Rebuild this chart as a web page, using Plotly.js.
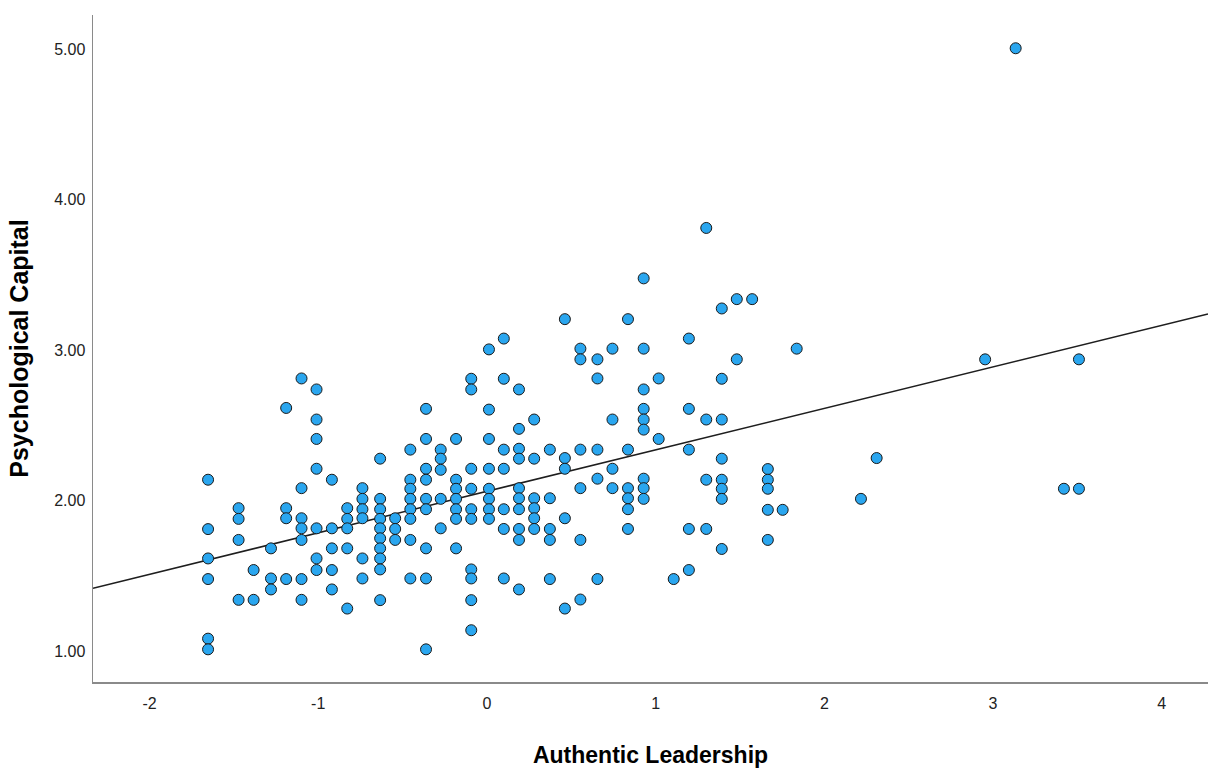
<!DOCTYPE html>
<html>
<head>
<meta charset="utf-8">
<script src="https://cdn.plot.ly/plotly-3.0.1.min.js"></script>
<style>html,body{margin:0;padding:0;background:#fff;}#chart{width:1208px;height:768px;}</style>
</head>
<body>
<div id="chart"></div>
<script>
// Authentic Leadership (x) and Psychological Capital (y), paired values
const authenticLeadership = [
  -1.653,-1.653,-1.653,-1.653,-1.653,-1.653,
  -1.472,-1.472,-1.472,-1.472,
  -1.383,-1.383,
  -1.28,-1.28,-1.28,
  -1.19,-1.19,-1.19,-1.19,
  -1.099,-1.099,-1.099,-1.099,-1.099,-1.099,-1.099,
  -1.01,-1.01,-1.01,-1.01,-1.01,-1.01,-1.01,
  -0.919,-0.919,-0.919,-0.919,-0.919,
  -0.828,-0.828,-0.828,-0.828,-0.828,
  -0.738,-0.738,-0.738,-0.738,-0.738,-0.738,
  -0.633,-0.633,-0.633,-0.633,-0.633,-0.633,-0.633,-0.633,-0.633,-0.633,
  -0.544,-0.544,-0.544,
  -0.454,-0.454,-0.454,-0.454,-0.454,-0.454,-0.454,-0.454,
  -0.361,-0.361,-0.361,-0.361,-0.361,-0.361,-0.361,-0.361,-0.361,
  -0.274,-0.274,-0.274,-0.274,-0.274,
  -0.183,-0.183,-0.183,-0.183,-0.183,-0.183,-0.183,
  -0.093,-0.093,-0.093,-0.093,-0.093,-0.093,-0.093,-0.093,-0.093,-0.093,
  0.012,0.012,0.012,0.012,0.012,0.012,0.012,0.012,
  0.1,0.1,0.1,0.1,0.1,0.1,0.1,
  0.19,0.19,0.19,0.19,0.19,0.19,0.19,0.19,0.19,0.19,
  0.28,0.28,0.28,0.28,0.28,0.28,
  0.373,0.373,0.373,0.373,0.373,
  0.462,0.462,0.462,0.462,0.462,
  0.554,0.554,0.554,0.554,0.554,0.554,
  0.655,0.655,0.655,0.655,0.655,
  0.744,0.744,0.744,0.744,
  0.836,0.836,0.836,0.836,0.836,0.836,
  0.929,0.929,0.929,0.929,0.929,0.929,0.929,0.929,0.929,
  1.018,1.018,
  1.107,
  1.197,1.197,1.197,1.197,1.197,
  1.3,1.3,1.3,1.3,
  1.392,1.392,1.392,1.392,1.392,1.392,1.392,1.392,
  1.481,1.481,
  1.572,
  1.665,1.665,1.665,1.665,1.665,
  1.753,
  1.836,
  2.217,
  2.31,
  2.953,
  3.134,
  3.42,
  3.509,3.509
];
const psychologicalCapital = [
  2.138,1.81,1.615,1.478,1.082,1.011,
  1.949,1.878,1.738,1.34,
  1.538,1.34,
  1.682,1.482,1.409,
  2.615,1.949,1.882,1.478,
  2.811,2.082,1.882,1.815,1.738,1.478,1.34,
  2.738,2.538,2.409,2.211,1.815,1.615,1.538,
  2.138,1.815,1.682,1.538,1.409,
  1.949,1.878,1.815,1.682,1.282,
  2.082,2.011,1.942,1.882,1.615,1.482,
  2.278,2.011,1.942,1.878,1.815,1.749,1.682,1.615,1.542,1.338,
  1.882,1.811,1.738,
  2.338,2.138,2.078,2.011,1.942,1.878,1.738,1.482,
  2.609,2.409,2.211,2.138,2.011,1.942,1.682,1.482,1.011,
  2.338,2.278,2.204,2.011,1.815,
  2.409,2.138,2.078,2.011,1.942,1.878,1.682,
  2.809,2.738,2.211,2.078,1.942,1.878,1.542,1.482,1.338,1.138,
  3.004,2.604,2.409,2.211,2.078,2.011,1.942,1.878,
  3.076,2.809,2.338,2.211,1.942,1.811,1.482,
  2.738,2.476,2.344,2.278,2.082,2.015,1.942,1.811,1.738,1.409,
  2.538,2.278,2.015,1.949,1.882,1.811,
  2.338,2.015,1.811,1.738,1.478,
  3.205,2.282,2.211,1.882,1.282,
  3.009,2.938,2.338,2.082,1.738,1.342,
  2.938,2.811,2.338,2.145,1.478,
  3.009,2.538,2.211,2.082,
  3.205,2.338,2.082,2.015,1.942,1.811,
  3.476,3.009,2.738,2.609,2.538,2.471,2.145,2.082,2.011,
  2.811,2.409,
  1.478,
  3.076,2.609,2.338,1.811,1.538,
  3.811,2.538,2.138,1.811,
  3.276,2.809,2.538,2.278,2.138,2.078,2.011,1.678,
  3.338,2.938,
  3.338,
  2.209,2.138,2.078,1.938,1.738,
  1.938,
  3.009,
  2.011,
  2.282,
  2.938,
  5.005,
  2.078,
  2.938,2.078
];
// Fit line: intercept and slope
const fitIntercept = 2.061;
const fitSlope = 0.2757;
const xRange = [-2.335, 4.274];
const yRange = [0.794, 5.226];
const yTickVals = [1, 2, 3, 4, 5];
const yTickText = ['1.00', '2.00', '3.00', '4.00', '5.00'];
const xTickVals = [-2, -1, 0, 1, 2, 3, 4];
const xTickText = ['-2', '-1', '0', '1', '2', '3', '4'];

const fitX = xRange.slice();
const fitY = fitX.map(x => fitIntercept + fitSlope * x);

const tickFont = {family: 'Liberation Sans, Arial, sans-serif', size: 16, color: '#222'};
const titleFont = {family: 'Liberation Sans, Arial, sans-serif', size: 23, color: '#000', weight: 'bold'};

const traces = [
  {
    type: 'scatter', mode: 'lines', x: fitX, y: fitY,
    line: {color: '#1e1e1e', width: 1.5}, hoverinfo: 'skip', showlegend: false
  },
  {
    type: 'scatter', mode: 'markers', x: authenticLeadership, y: psychologicalCapital,
    marker: {size: 11, color: '#2aa6ef', line: {color: '#1a1a1a', width: 1}},
    showlegend: false
  }
];

const layout = {
  width: 1208, height: 768,
  margin: {l: 93, r: 0, t: 15, b: 86},
  paper_bgcolor: '#fff', plot_bgcolor: '#fff',
  showlegend: false,
  xaxis: {
    range: xRange, tickvals: xTickVals, ticktext: xTickText, showgrid: false, zeroline: false,
    showline: true, linecolor: '#8a8a8a', linewidth: 1.5,
    ticks: 'outside', ticklen: 6, tickcolor: 'rgba(0,0,0,0)',
    tickfont: tickFont,
    title: {text: 'Authentic Leadership', font: titleFont, standoff: 36}
  },
  yaxis: {
    range: yRange, tickvals: yTickVals, ticktext: yTickText, showgrid: false, zeroline: false,
    showline: true, linecolor: '#8a8a8a', linewidth: 1.5,
    ticks: 'outside', ticklen: 3, tickcolor: 'rgba(0,0,0,0)',
    tickfont: tickFont,
    title: {text: 'Psychological Capital', font: Object.assign({}, titleFont, {size: 25}), standoff: 18}
  }
};

Plotly.newPlot('chart', traces, layout, {displayModeBar: false, staticPlot: true});
</script>
</body>
</html>
